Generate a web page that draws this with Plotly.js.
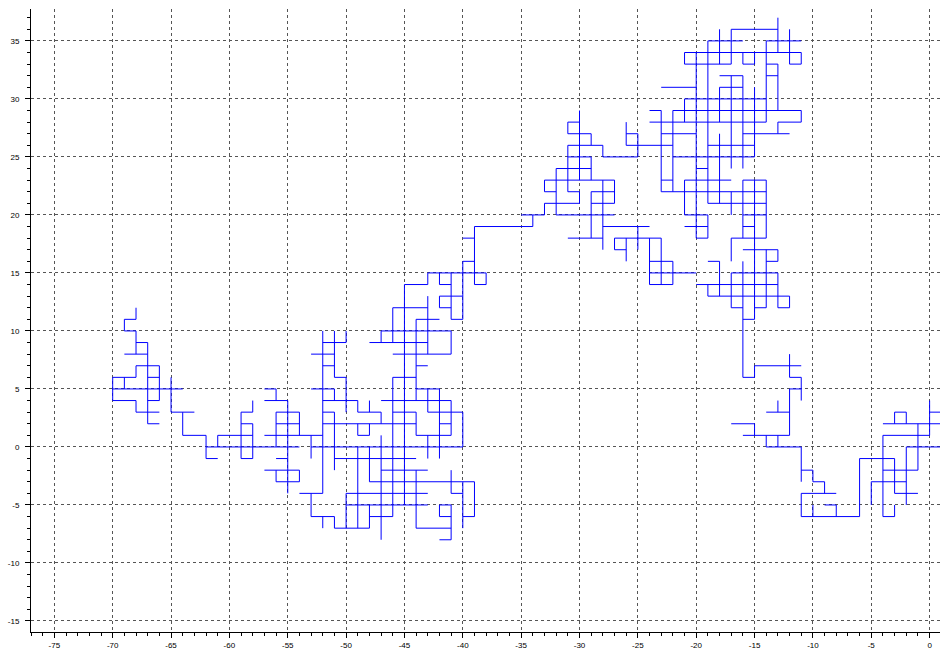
<!DOCTYPE html>
<html>
<head>
<meta charset="utf-8">
<script src="https://cdn.plot.ly/plotly-3.0.1.min.js"></script>
<style>html,body{margin:0;padding:0;background:#fff;}#chart{width:940px;height:653px;}</style>
</head>
<body>
<div id="chart"></div>
<script>
// Horizontal walk steps: level y, from x0 to x1
const hY = [
 36,
 35,35,
 34,
 33,33,33,33,
 32,32,
 31,31,
 30,
 29,29,
 28,28,28,
 27,27,27,27,
 26,26,26,
 25,25,25,
 24,24,
 23,23,23,23,
 22,22,22,22,
 21,21,21,
 20,20,20,20,
 19,19,19,19,
 18,18,18,18,18,
 17,17,
 16,16,16,16,
 15,15,15,
 14,14,14,14,14,
 13,13,
 12,12,12,12,12,
 11,11,11,11,
 10,10,
 9,9,9,
 8,8,8,
 7,7,7,7,
 6,6,6,6,6,6,
 5,5,5,5,5,
 4,4,4,4,4,
 3,3,3,3,3,3,3,3,3,3,3,
 2,2,2,2,2,2,2,
 1,1,1,1,1,1,1,
 0,0,0,0,
 -1,-1,-1,-1,-1,
 -2,-2,-2,-2,
 -3,-3,-3,-3,
 -4,-4,-4,-4,-4,
 -5,-5,-5,
 -6,-6,-6,-6,-6,-6,
 -7,-7,
 -8
];
const hX0 = [
 -17,
 -19,-14,
 -21,
 -21,-16,-14,-12,
 -18,-14,
 -23,-18,
 -21,
 -24,-22,
 -31,-24,-13,
 -31,-26,-23,-16,
 -31,-26,-19,
 -31,-28,-22,
 -32,-20,
 -33,-23,-21,-16,
 -33,-31,-29,-23,
 -33,-29,-19,
 -35,-32,-21,-16,
 -39,-28,-21,-16,
 -40,-31,-27,-20,-17,
 -27,-16,
 -40,-24,-19,-14,
 -43,-24,-17,
 -45,-42,-39,-24,-20,
 -42,-19,
 -46,-42,-17,-15,-13,
 -69,-44,-41,-16,
 -69,-47,
 -68,-52,-48,
 -69,-53,-46,
 -68,-52,-44,-15,
 -70,-67,-51,-46,-16,-12,
 -70,-57,-53,-44,-12,
 -70,-67,-57,-52,-47,
 -68,-65,-59,-56,-52,-49,-46,-43,-14,-3,0,
 -67,-59,-56,-52,-42,-17,-4,
 -64,-61,-57,-49,-44,-16,-4,
 -62,-53,-14,-2,
 -62,-59,-56,-51,-6,
 -57,-47,-11,-4,
 -56,-48,-10,-5,
 -54,-50,-41,-11,-3,
 -50,-42,-9,
 -53,-48,-42,-40,-11,-4,
 -51,-44,
 -42
];
const hX1 = [
 -13,
 -16,-11,
 -11,
 -17,-15,-13,-11,
 -16,-13,
 -20,-16,
 -14,
 -23,-11,
 -30,-14,-11,
 -29,-25,-20,-12,
 -28,-22,-15,
 -29,-25,-15,
 -29,-19,
 -27,-22,-17,-14,
 -32,-30,-27,-14,
 -30,-27,-14,
 -33,-27,-19,-14,
 -34,-24,-19,-15,
 -39,-28,-23,-19,-14,
 -26,-13,
 -39,-22,-18,-13,
 -38,-20,-13,
 -43,-41,-38,-22,-13,
 -40,-12,
 -43,-41,-16,-14,-12,
 -68,-42,-40,-15,
 -68,-41,
 -67,-50,-43,
 -67,-51,-41,
 -66,-51,-43,-11,
 -68,-66,-50,-44,-15,-11,
 -64,-56,-51,-42,-11,
 -68,-66,-55,-49,-41,
 -66,-63,-58,-54,-51,-47,-44,-40,-12,-2,1,
 -66,-58,-54,-44,-41,-15,1,
 -62,-58,-52,-48,-41,-12,0,
 -54,-40,-11,1,
 -61,-58,-55,-44,-3,
 -54,-43,-10,-1,
 -54,-39,-9,-2,
 -52,-43,-40,-8,-1,
 -43,-41,-8,
 -51,-46,-41,-39,-6,-3,
 -48,-41,
 -41
];
// Vertical walk steps: column x, from y0 to y1
const vX = [
 -70,
 -69,-69,
 -68,-68,-68,-68,
 -67,
 -66,
 -65,
 -64,
 -62,
 -61,
 -59,
 -58,-58,
 -56,-56,-56,
 -55,
 -54,-54,
 -53,-53,
 -52,-52,
 -51,-51,-51,-51,
 -50,-50,-50,
 -49,-49,-49,
 -48,-48,-48,-48,
 -47,-47,-47,
 -46,-46,
 -45,
 -44,-44,-44,
 -43,-43,-43,-43,
 -42,-42,-42,-42,
 -41,-41,-41,-41,-41,
 -40,-40,-40,
 -39,-39,
 -38,
 -34,
 -33,-33,
 -32,
 -31,-31,
 -30,-30,
 -29,-29,-29,
 -28,-28,
 -27,-27,
 -26,-26,
 -25,-25,
 -24,
 -23,-23,
 -22,-22,
 -21,-21,-21,
 -20,
 -19,-19,-19,
 -18,-18,-18,-18,
 -17,-17,-17,-17,-17,
 -16,-16,-16,-16,
 -15,-15,-15,-15,-15,
 -14,-14,-14,-14,
 -13,-13,-13,-13,-13,-13,-13,
 -12,-12,-12,-12,
 -11,-11,-11,-11,-11,
 -10,-10,
 -9,
 -8,
 -6,
 -5,
 -4,
 -3,-3,-3,
 -2,-2,
 -1,
 0,
 1
];
const vY0 = [
 4,
 10,5,
 11,8,6,3,
 2,
 4,
 3,
 1,
 -1,
 0,
 -1,
 3,-1,
 4,0,-3,
 -4,
 1,-3,
 -1,-6,
 -4,-7,
 6,4,-2,-7,
 9,3,-7,
 3,1,-7,
 3,1,-3,-7,
 9,2,-8,
 9,-6,
 -5,
 4,1,-7,
 14,8,3,-1,
 14,12,-1,-6,
 11,8,1,-4,-8,
 11,0,-7,
 14,-6,
 14,
 19,
 20,22,
 20,
 22,27,
 21,23,
 18,23,26,
 17,25,
 17,21,
 16,26,
 17,25,
 14,
 14,22,
 14,22,
 20,28,33,
 18,
 13,18,21,
 13,21,28,33,
 12,16,20,24,33,
 6,18,24,33,
 1,6,11,25,33,
 0,12,18,28,
 0,3,12,16,27,29,34,
 1,6,12,33,
 -6,-3,4,28,33,
 -6,-3,
 -4,
 -6,
 -6,
 -5,
 -6,
 -6,-4,2,
 -5,2,
 -2,
 1,
 2
];
const vY1 = [
 6,
 11,6,
 12,10,7,4,
 9,
 7,
 6,
 3,
 1,
 1,
 3,
 4,2,
 5,3,-2,
 4,
 3,-2,
 1,-4,
 10,-6,
 10,5,3,-6,
 10,6,-4,
 4,2,0,
 4,2,0,-5,
 10,3,1,
 12,6,
 14,
 11,3,-2,
 15,13,5,1,
 15,13,5,-5,
 15,10,4,-2,-5,
 16,3,-3,
 19,-3,
 15,
 20,
 21,23,
 24,
 26,28,
 22,29,
 22,25,27,
 23,26,
 18,23,
 18,28,
 19,27,
 18,
 18,29,
 16,29,
 23,30,34,
 34,
 14,20,35,
 16,27,31,36,
 15,18,22,32,36,
 16,23,32,34,
 2,7,23,31,34,
 1,17,23,35,
 1,4,15,17,28,33,37,
 5,8,13,36,
 -4,0,6,29,34,
 -5,-2,
 -3,
 -5,
 -1,
 -3,
 1,
 -5,-1,3,
 0,3,
 2,
 4,
 3
];
const xTickVals = [-75,-70,-65,-60,-55,-50,-45,-40,-35,-30,-25,-20,-15,-10,-5,0];
const xTickText = ['-75','-70','-65','-60','-55','-50','-45','-40','-35','-30','-25','-20','-15','-10','-5','0'];
const yTickVals = [-15,-10,-5,0,5,10,15,20,25,30,35];
const yTickText = ['-15','-10','-5','0','5','10','15','20','25','30','35'];

const px = [], py = [];
const nh = Math.min(hY.length, hX0.length, hX1.length);
for (let i = 0; i < nh; i++) { px.push(hX0[i], hX1[i], null); py.push(hY[i], hY[i], null); }
const nv = Math.min(vX.length, vY0.length, vY1.length);
for (let i = 0; i < nv; i++) { px.push(vX[i], vX[i], null); py.push(vY0[i], vY1[i], null); }
if (hY.length !== hX0.length || hY.length !== hX1.length) console.error('h arrays mismatch', hY.length, hX0.length, hX1.length);
if (vX.length !== vY0.length || vX.length !== vY1.length) console.error('v arrays mismatch', vX.length, vY0.length, vY1.length);

const tickFont = {family: 'Liberation Sans, Arial, sans-serif', size: 8, color: '#000'};
const axisCommon = {
  showgrid: true, gridcolor: '#555', gridwidth: 1, griddash: '3px,3px',
  zeroline: false, showline: true, linecolor: '#000', linewidth: 1,
  ticks: 'outside', ticklen: 5, tickcolor: '#000', tickwidth: 1,
  tickfont: tickFont, tickmode: 'array', fixedrange: true
};

Plotly.newPlot('chart', [{
  type: 'scatter', mode: 'lines', x: px, y: py,
  line: {color: '#0000ff', width: 1}, connectgaps: false, hoverinfo: 'skip'
}], {
  width: 940, height: 653,
  margin: {l: 31, r: 0, t: 9, b: 21, pad: 0},
  paper_bgcolor: '#fff', plot_bgcolor: '#fff', showlegend: false,
  xaxis: Object.assign({}, axisCommon, {
    range: [-77, 0.89], tickvals: xTickVals, ticktext: xTickText,
    minor: {tickmode: 'linear', tick0: 0, dtick: 1, ticks: 'outside', ticklen: 3, tickcolor: '#000', showgrid: false}
  }),
  yaxis: Object.assign({}, axisCommon, {
    range: [-15.95, 37.75], tickvals: yTickVals, ticktext: yTickText,
    ticklabelstandoff: 4,
    minor: {tickmode: 'linear', tick0: 0, dtick: 1, ticks: 'outside', ticklen: 3, tickcolor: '#000', showgrid: false}
  })
}, {displayModeBar: false, staticPlot: true});
</script>
</body>
</html>
